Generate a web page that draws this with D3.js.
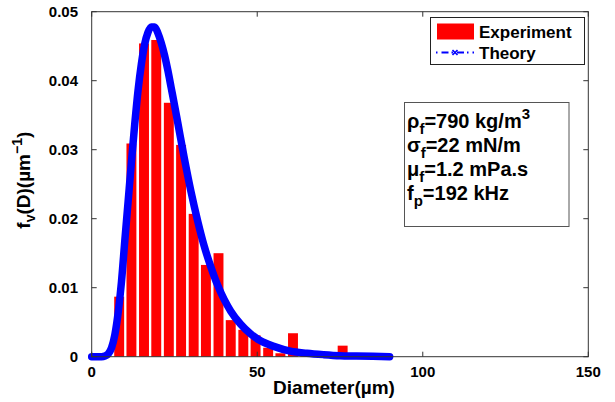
<!DOCTYPE html>
<html>
<head>
<meta charset="utf-8">
<script src="https://cdn.jsdelivr.net/npm/d3@7/dist/d3.min.js"></script>
<style>
  html, body { margin: 0; padding: 0; background: #fff; }
  svg { display: block; font-family: "Liberation Sans", Arial, Helvetica, sans-serif; font-weight: bold; }
</style>
</head>
<body>
<svg id="chart" width="615" height="402"></svg>
<script>
// ---- data ----
const binCenters = [8.3, 12.0, 15.8, 19.5, 23.3, 27.0, 30.8, 34.5, 38.3, 42.0, 45.8, 49.5, 53.3, 57.0, 60.8, 64.5, 68.3, 72.0, 75.8];
const experiment = [0.0087, 0.0309, 0.0454, 0.0459, 0.0368, 0.0307, 0.0207, 0.0133, 0.0150, 0.0053, 0.0039, 0.0031, 0.0013, 0.0005, 0.0034, 0.0003, 0.0002, 0.0000, 0.0016];
const binWidth = 3.0;

const theoryD = [0, 2, 3, 4, 5, 6, 7, 8, 9, 10, 11, 12, 13, 14, 15, 16, 17, 18, 19, 20, 21, 22, 23, 24, 25, 26, 28, 30, 32, 34, 36, 38, 40, 42, 45, 48, 51, 55, 60, 65, 70, 75, 80, 90];
const theoryF = [0, 0, 0, 0.0001, 0.0004, 0.0013, 0.0032, 0.0064, 0.0109, 0.0168, 0.0225, 0.0282, 0.0337, 0.0386, 0.0424, 0.0453, 0.0470, 0.0478, 0.0478, 0.0469, 0.0455, 0.0437, 0.0415, 0.0390, 0.0365, 0.0339, 0.0287, 0.0239, 0.0197, 0.0160, 0.0130, 0.0104, 0.0083, 0.0066, 0.0047, 0.0033, 0.0023, 0.0015, 0.0008, 0.0005, 0.0003, 0.00015, 0.0001, 0];

const xTicks = [0, 50, 100, 150];
const yTicks = [0, 0.01, 0.02, 0.03, 0.04, 0.05];
const legendLabels = ["Experiment", "Theory"];
const props = [
  { sym: "ρ", sub: "f", text: "=790 kg/m", sup: "3" },
  { sym: "σ", sub: "f", text: "=22 mN/m", sup: "" },
  { sym: "μ", sub: "f", text: "=1.2 mPa.s", sup: "" },
  { sym: "f", sub: "p", text: "=192 kHz", sup: "" }
];

// ---- layout ----
const L = 91.7, R = 588.3, T = 11.7, B = 356.7;
const svg = d3.select("#chart");
const x = d3.scaleLinear().domain([0, 150]).range([L, R]);
const y = d3.scaleLinear().domain([0, 0.05]).range([B, T]);

// bars
svg.append("g").selectAll("rect")
  .data(binCenters.map((c, i) => ({ c, v: experiment[i] })))
  .join("rect")
  .attr("x", d => x(d.c - binWidth / 2))
  .attr("width", x(binWidth) - x(0))
  .attr("y", d => y(d.v))
  .attr("height", d => y(0) - y(d.v))
  .attr("fill", "#ff0000");

// theory curve
const line = d3.line()
  .x((d, i) => x(theoryD[i]))
  .y((d, i) => y(theoryF[i]))
  .curve(d3.curveMonotoneX);
svg.append("path")
  .datum(theoryF)
  .attr("d", line)
  .attr("fill", "none")
  .attr("stroke", "#0000ff")
  .attr("stroke-width", 7.5)
  .attr("stroke-linecap", "round")
  .attr("stroke-linejoin", "round");

// axes box
const axisColor = "#333";
svg.append("rect")
  .attr("x", L).attr("y", T)
  .attr("width", R - L).attr("height", B - T)
  .attr("fill", "none").attr("stroke", axisColor).attr("stroke-width", 1);

// ticks
const tl = 5;
const gx = svg.append("g");
xTicks.forEach(t => {
  gx.append("line").attr("x1", x(t)).attr("x2", x(t)).attr("y1", B).attr("y2", B - tl).attr("stroke", axisColor);
  gx.append("line").attr("x1", x(t)).attr("x2", x(t)).attr("y1", T).attr("y2", T + tl).attr("stroke", axisColor);
  gx.append("text").attr("x", x(t)).attr("y", 377).attr("text-anchor", "middle")
    .attr("font-size", 15).text(d3.format("d")(t));
});
const gy = svg.append("g");
yTicks.forEach(t => {
  gy.append("line").attr("x1", L).attr("x2", L + tl).attr("y1", y(t)).attr("y2", y(t)).attr("stroke", axisColor);
  gy.append("line").attr("x1", R).attr("x2", R - tl).attr("y1", y(t)).attr("y2", y(t)).attr("stroke", axisColor);
  gy.append("text").attr("x", 78).attr("y", y(t) + 5).attr("text-anchor", "end")
    .attr("font-size", 15).text(t === 0 ? "0" : d3.format(".2f")(t));
});

// axis labels
svg.append("text").attr("x", 334).attr("y", 394).attr("text-anchor", "middle")
  .attr("font-size", 19).text("Diameter(µm)");

const yl = svg.append("text")
  .attr("transform", `translate(30,${(T + B) / 2 - 4}) rotate(-90)`)
  .attr("text-anchor", "middle").attr("font-size", 19);
yl.append("tspan").text("f");
yl.append("tspan").attr("dy", 5).attr("font-size", 14).text("v");
yl.append("tspan").attr("dy", -5).text("(D)(µm");
yl.append("tspan").attr("dy", -8).attr("font-size", 14).text("−1");
yl.append("tspan").attr("dy", 8).text(")");

// legend
const lg = svg.append("g");
lg.append("rect").attr("x", 430.5).attr("y", 17.5).attr("width", 154).attr("height", 47)
  .attr("fill", "#fff").attr("stroke", "#222").attr("stroke-width", 1);
lg.append("rect").attr("x", 437).attr("y", 23.5).attr("width", 37).attr("height", 16).attr("fill", "#ff0000");
lg.append("text").attr("x", 479).attr("y", 38).attr("font-size", 17).text(legendLabels[0]);
lg.append("line").attr("x1", 436).attr("x2", 474).attr("y1", 52.5).attr("y2", 52.5)
  .attr("stroke", "#0000ff").attr("stroke-width", 2).attr("stroke-dasharray", "1.5,4,7,3");
const mx = 455, my = 52.5;
lg.append("path").attr("d", `M${mx - 2.5},${my - 2.5}L${mx + 2.5},${my + 2.5}M${mx - 2.5},${my + 2.5}L${mx + 2.5},${my - 2.5}`)
  .attr("stroke", "#0000ff").attr("stroke-width", 1.6);
lg.append("text").attr("x", 479).attr("y", 58.5).attr("font-size", 17).text(legendLabels[1]);

// properties box
const pb = svg.append("g");
pb.append("rect").attr("x", 404.5).attr("y", 102.5).attr("width", 164.5).attr("height", 124)
  .attr("fill", "#fff").attr("stroke", "#555").attr("stroke-width", 1);
props.forEach((p, i) => {
  const t = pb.append("text").attr("x", 407).attr("y", 127.5 + i * 24.2).attr("font-size", 20);
  t.append("tspan").text(p.sym);
  t.append("tspan").attr("dy", 6).attr("font-size", 15).text(p.sub);
  t.append("tspan").attr("dy", -6).text(p.text);
  if (p.sup) t.append("tspan").attr("dy", -9).attr("font-size", 15).text(p.sup);
});
</script>
</body>
</html>
